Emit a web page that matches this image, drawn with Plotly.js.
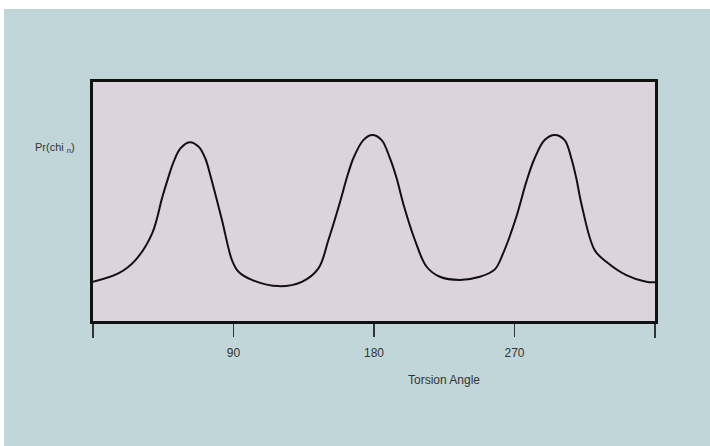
<!DOCTYPE html>
<html>
<head>
<meta charset="utf-8">
<script src="https://cdn.plot.ly/plotly-3.0.1.min.js"></script>
<style>
  html, body { margin: 0; padding: 0; background: #ffffff; width: 710px; height: 446px; overflow: hidden; }
  #chart { position: absolute; left: 4px; top: 9px; width: 706px; height: 437px; }
</style>
</head>
<body>
<div id="chart"></div>
<script>
// Torsion angle (degrees)
const angle = [0, 16.5, 27.2, 37.9, 44.2, 47.4, 51.7, 56.0, 61.9, 67.7, 71.9, 75.1, 82.6,
  89.0, 93.2, 101.8, 118.8, 133.8, 144.4, 150.8, 158.3, 162.5, 166.8, 173.2, 178.9,
  184.9, 190.2, 194.5, 198.7, 206.2, 213.7, 222.2, 235.0, 247.8, 257.4, 262.7, 271.2,
  277.6, 282.9, 289.3, 295.7, 302.1, 306.4, 309.6, 312.8, 321.3, 328.8, 341.6, 354.4, 360];
// Probability (relative)
const prob = [0.164, 0.200, 0.255, 0.367, 0.513, 0.583, 0.667, 0.722, 0.748, 0.729, 0.681,
  0.611, 0.423, 0.255, 0.206, 0.172, 0.146, 0.164, 0.220, 0.339, 0.499, 0.597, 0.681,
  0.757, 0.778, 0.757, 0.681, 0.597, 0.492, 0.339, 0.227, 0.185, 0.172, 0.185, 0.216,
  0.283, 0.436, 0.583, 0.681, 0.757, 0.778, 0.757, 0.681, 0.597, 0.492, 0.297, 0.248,
  0.192, 0.164, 0.162];
const tickVals = [90, 180, 270];
const tickText = ["90", "180", "270"];
const xTitle = "Torsion Angle";
const yTitle = "Pr(chi <sub>n</sub>)";

const trace = {
  x: angle, y: prob, type: 'scatter', mode: 'lines',
  line: { color: '#111111', width: 2, shape: 'spline', smoothing: 1 },
  hoverinfo: 'skip'
};

const layout = {
  width: 706, height: 437,
  margin: { l: 88.5, r: 54.5, t: 73, b: 125 },
  paper_bgcolor: '#c1d6d9',
  plot_bgcolor: '#dcd3dc',
  showlegend: false,
  font: { family: 'Liberation Sans, Arial, sans-serif', color: '#333333', size: 12 },
  xaxis: {
    range: [0, 360], showgrid: false, zeroline: false,
    showline: true, mirror: true, linecolor: '#111111', linewidth: 3,
    tickmode: 'array', tickvals: tickVals, ticktext: tickText,
    ticks: 'outside', ticklen: 13, tickwidth: 1.3, tickcolor: '#333333',
    ticklabelstandoff: 6,
    tickfont: { size: 12, color: '#333333' },
    minor: { tick0: 0, dtick: 360, ticks: 'outside', ticklen: 14, tickwidth: 1.3, tickcolor: '#333333', showgrid: false }
  },
  yaxis: {
    range: [0, 1], showgrid: false, zeroline: false,
    showline: true, mirror: true, linecolor: '#111111', linewidth: 3,
    showticklabels: false, ticks: ''
  },
  annotations: [
    { text: xTitle, xref: 'paper', yref: 'paper', x: 0.625, y: -0.245,
      xanchor: 'center', yanchor: 'middle', showarrow: false,
      font: { size: 12, color: '#333333' } },
    { text: yTitle, xref: 'paper', yref: 'paper', x: -0.068, y: 0.725,
      xanchor: 'center', yanchor: 'middle', showarrow: false,
      font: { size: 11, color: '#333333' } }
  ]
};

Plotly.newPlot('chart', [trace], layout, { displayModeBar: false, staticPlot: true });
</script>
</body>
</html>
